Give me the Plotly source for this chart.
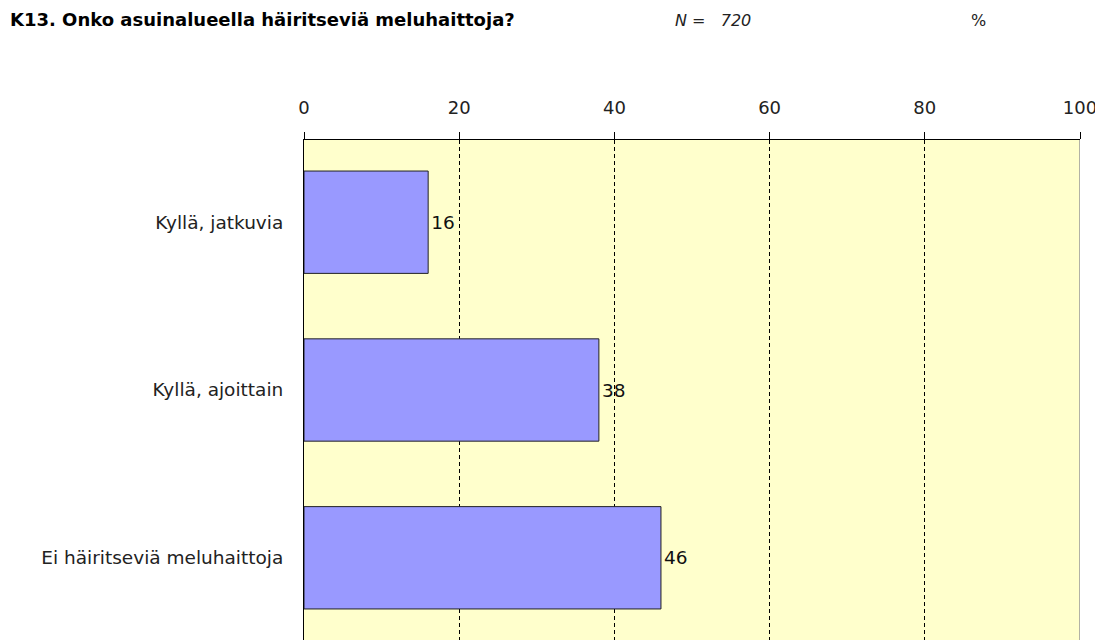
import plotly.graph_objects as go

categories = ["Kyllä, jatkuvia", "Kyllä, ajoittain", "Ei häiritseviä meluhaittoja"]
values = [16, 38, 46]
tick_values = [0, 20, 40, 60, 80, 100]
tick_labels = ["0", "20", "40", "60", "80", "100"]

FONT = "DejaVu Sans"

# page body has an 8px margin; figure coordinates are offset by that amount
OFF = 8
L, R_EDGE, TOP, BOTTOM = 304 - OFF, 1080 - OFF, 140 - OFF, 640 - OFF
W, H = 1103, 640
PW, PH = R_EDGE - L, BOTTOM - TOP

fig = go.Figure()
fig.add_trace(go.Bar(
    y=categories,
    x=values,
    orientation="h",
    width=0.61,
    marker=dict(color="#9999FF", line=dict(color="#222222", width=1)),
    text=[str(v) for v in values],
    textposition="outside",
    textfont=dict(family=FONT, size=18.5, color="#111111"),
    cliponaxis=False,
    hoverinfo="skip",
))

fig.update_layout(
    width=W,
    height=H,
    margin=dict(l=L, r=W - R_EDGE, t=TOP, b=H - BOTTOM),
    paper_bgcolor="white",
    plot_bgcolor="#FFFFCC",
    showlegend=False,
    title=dict(
        text="<b>K13. Onko asuinalueella häiritseviä meluhaittoja?</b>",
        x=(10 - OFF) / W, xref="container", xanchor="left",
        y=1 - (20 - OFF) / H, yref="container", yanchor="middle",
        font=dict(family=FONT, size=18, color="#000000"),
    ),
    xaxis=dict(
        side="top",
        range=[0, 100],
        tickvals=tick_values,
        ticktext=tick_labels,
        ticks="outside",
        ticklen=7,
        tickcolor="#000000",
        ticklabelstandoff=11,
        tickfont=dict(family=FONT, size=18, color="#222222"),
        showline=True,
        linecolor="#000000",
        linewidth=1,
        showgrid=True,
        gridcolor="#000000",
        gridwidth=1,
        griddash="4px,3px",
        zeroline=False,
        fixedrange=True,
    ),
    yaxis=dict(
        type="category",
        range=[2.49, -0.49],
        ticks="",
        ticklabelstandoff=16,
        tickfont=dict(family=FONT, size=18.5, color="#222222"),
        showline=True,
        linecolor="#000000",
        linewidth=1,
        showgrid=False,
        zeroline=False,
        fixedrange=True,
    ),
)

# right border of plotting area (grey)
fig.add_shape(type="line", xref="x", yref="paper", x0=100, x1=100, y0=0, y1=1,
              line=dict(color="#999999", width=1.5), layer="above")

fig.add_annotation(
    text="<i>N</i> =   <i>720</i>",
    xref="paper", yref="paper",
    x=(673 - 304) / PW, y=(BOTTOM - (20 - OFF)) / PH,
    xanchor="left", yanchor="middle", showarrow=False,
    font=dict(family=FONT, size=16, color="#222222"),
)
fig.add_annotation(
    text="%",
    xref="paper", yref="paper",
    x=(978 - 304) / PW, y=(BOTTOM - (20 - OFF)) / PH,
    xanchor="center", yanchor="middle", showarrow=False,
    font=dict(family=FONT, size=16, color="#222222"),
)

fig.write_html("out.html")
